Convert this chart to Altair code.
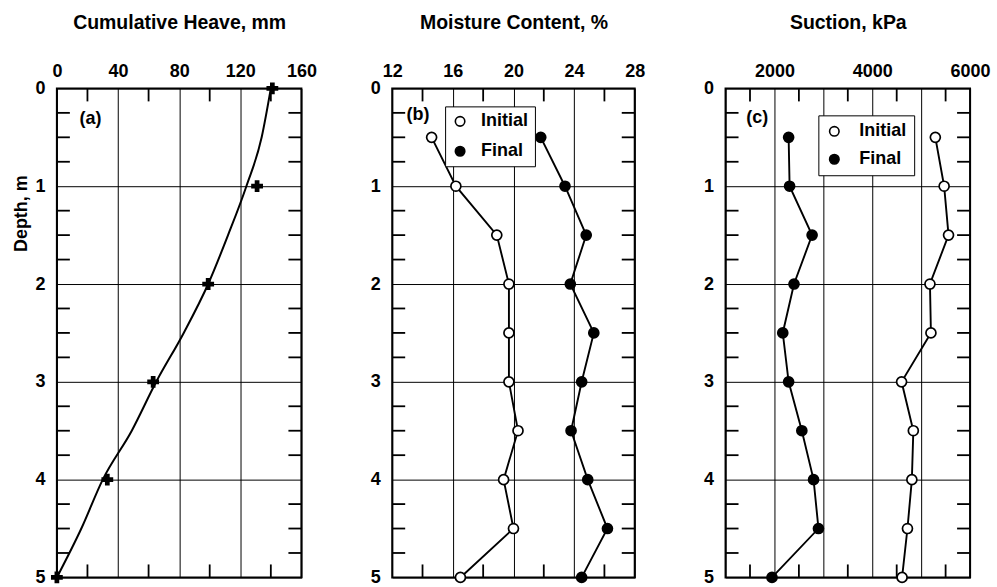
import altair as alt
import pandas as pd

FONT = "Liberation Sans"
WEIGHT = "bold"

# ---------------- data ----------------
# (a) cumulative heave
heave_depth = [0, 1, 2, 3, 4, 5]
heave_mm = [141, 131, 99, 63, 33, 0]
curve_depth = [0, 0.5, 1, 1.5, 2, 2.5, 3, 3.5, 4, 4.5, 5]
curve_mm = [140, 134, 124, 112, 99, 83, 65, 49, 30, 16, 0]

# (b) moisture content
samp_depth = [0.5, 1, 1.5, 2, 2.5, 3, 3.5, 4, 4.5, 5]
moist_initial = [14.6, 16.2, 18.9, 19.7, 19.7, 19.7, 20.3, 19.35, 20.0, 16.5]
moist_final = [21.8, 23.4, 24.8, 23.75, 25.3, 24.5, 23.8, 24.9, 26.2, 24.5]

# (c) suction
suct_initial = [5290, 5470, 5560, 5180, 5200, 4600, 4840, 4810, 4720, 4610]
suct_final = [2290, 2310, 2770, 2400, 2170, 2290, 2560, 2800, 2900, 1950]

series_names = ["Initial", "Final"]

# axes / ticks
depth_ticks = [0, 1, 2, 3, 4, 5]
depth_minor = [0.25, 0.5, 0.75, 1.25, 1.5, 1.75, 2.25, 2.5, 2.75,
               3.25, 3.5, 3.75, 4.25, 4.5, 4.75]
a_ticks = [0, 40, 80, 120, 160]
a_minor = [20, 60, 100, 140]
b_ticks = [12, 16, 20, 24, 28]
b_minor = [14, 18, 22, 26]
c_ticks = [1000, 2000, 3000, 4000, 5000, 6000]
c_minor = [1500, 2500, 3500, 4500, 5500]

panel_tags = ["(a)", "(b)", "(c)"]
tag_x = [22, 13.7, 1650]
tag_depth = [0.31, 0.27, 0.3]

W_A, W_B, W_C, H = 245, 243, 245, 490
TICK = 13


def x_axis(values, title, label_expr=None, fmt=None):
    kw = dict(orient="top", values=values, grid=True, gridColor="black",
              gridWidth=1, gridOpacity=1, domain=False, ticks=False,
              labelPadding=8, labelFontSize=18, labelFont=FONT,
              labelFontWeight=WEIGHT,
              labelColor="black", labelFlush=False, labelOverlap=False,
              title=title, titleFont=FONT, titleFontSize=19.5,
              titleFontWeight=WEIGHT, titleColor="black", titlePadding=30)
    if label_expr:
        kw["labelExpr"] = label_expr
    if fmt:
        kw["format"] = fmt
    return alt.Axis(**kw)


def y_axis(title):
    kw = dict(orient="left", values=depth_ticks, grid=True, gridColor="black",
              gridWidth=1, gridOpacity=1, domain=False, ticks=False,
              labelPadding=12, labelFontSize=18, labelFont=FONT,
              labelFontWeight=WEIGHT,
              labelColor="black", labelFlush=False, labelOverlap=False)
    if title:
        kw.update(title=title, titleFont=FONT, titleFontSize=18,
                  titleFontWeight=WEIGHT, titleColor="black",
                  titleX=-35, titleY=125, titleBaseline="middle",
                  titleAlign="center", titleAngle=270)
    else:
        kw["title"] = None
    return alt.Axis(**kw)


def panel(width, xdom, xticks, xminor, xtitle, ytitle, layers_fn, tag_i,
          label_expr=None, fmt=None):
    xs = alt.Scale(domain=xdom, nice=False, zero=False)
    ys = alt.Scale(domain=[0, 5], reverse=True, nice=False, zero=False)
    xa = x_axis(xticks, xtitle, label_expr, fmt)
    ya = y_axis(ytitle)

    def X(f):
        return alt.X(f, type="quantitative", scale=xs, axis=xa)

    def Y(f):
        return alt.Y(f, type="quantitative", scale=ys, axis=ya)

    ymin = pd.DataFrame({"d": depth_minor})
    xmin = pd.DataFrame({"v": xminor})
    rule = dict(color="black", strokeWidth=1.8)
    layers = [
        alt.Chart(ymin).mark_rule(**rule).encode(
            y=Y("d"), x=alt.value(0), x2=alt.value(TICK)),
        alt.Chart(ymin).mark_rule(**rule).encode(
            y=Y("d"), x=alt.value(width - TICK), x2=alt.value(width)),
        alt.Chart(xmin).mark_rule(**rule).encode(
            x=X("v"), y=alt.value(0), y2=alt.value(TICK)),
        alt.Chart(xmin).mark_rule(**rule).encode(
            x=X("v"), y=alt.value(H - TICK), y2=alt.value(H)),
    ]
    layers += layers_fn(X, Y)
    tag = pd.DataFrame({"t": [panel_tags[tag_i]], "x": [tag_x[tag_i]],
                        "d": [tag_depth[tag_i]]})
    layers.append(alt.Chart(tag).mark_text(
        font=FONT, fontSize=18, fontWeight=WEIGHT, color="black",
        align="center", baseline="middle").encode(
        x=X("x"), y=Y("d"), text="t:N"))
    return alt.layer(*layers).properties(width=width, height=H)


# ---- panel (a)
def a_layers(X, Y):
    pts = pd.DataFrame({"h": heave_mm, "d": heave_depth})
    crv = pd.DataFrame({"h": curve_mm, "d": curve_depth})
    return [
        alt.Chart(crv).mark_line(color="black", strokeWidth=2,
                                 interpolate="monotone").encode(
            x=X("h"), y=Y("d"), order="d:Q"),
        alt.Chart(pts).mark_point(shape="cross", filled=True, color="black",
                                  size=140, opacity=1).encode(
            x=X("h"), y=Y("d")),
    ]


def series_layers(vals_init, vals_final, lx, ly, loff, pad, rowpad):
    def fn(X, Y):
        df = pd.DataFrame({
            "v": vals_init + vals_final,
            "d": samp_depth + samp_depth,
            "s": [series_names[0]] * len(vals_init)
                 + [series_names[1]] * len(vals_final),
        })
        legend = alt.Legend(orient="none", legendX=lx, legendY=ly, title=None,
                            strokeColor="black", fillColor="white",
                            padding=pad, labelFontSize=18,
                            labelFontWeight=WEIGHT,
                            labelFont=FONT, labelColor="black",
                            symbolType="circle", symbolSize=90,
                            symbolStrokeColor="black", symbolStrokeWidth=1.6,
                            rowPadding=rowpad, labelOffset=loff)
        return [
            alt.Chart(df).mark_line(color="black", strokeWidth=1.9).encode(
                x=X("v"), y=Y("d"), detail="s:N", order="d:Q"),
            alt.Chart(df).mark_point(shape="circle", filled=True,
                                     stroke="black", strokeWidth=1.7,
                                     size=100, opacity=1).encode(
                x=X("v"), y=Y("d"),
                fill=alt.Fill("s:N", scale=alt.Scale(
                    domain=series_names, range=["white", "black"]),
                    legend=legend)),
        ]
    return fn


pa = panel(W_A, [0, 160], a_ticks, a_minor, "Cumulative Heave, mm",
           "Depth, m", a_layers, 0)
pb = panel(W_B, [12, 28], b_ticks, b_minor, "Moisture Content, %", None,
           series_layers(moist_initial, moist_final, 53, 18, 12, 6, 12), 1)
pc = panel(W_C, [1000, 6000], c_ticks, c_minor, "Suction, kPa", None,
           series_layers(suct_initial, suct_final, 93, 27, 16, 7, 10), 2,
           label_expr="datum.value % 2000 == 0 ? datum.label : ''", fmt="d")

chart = alt.hconcat(pa, pb, pc, spacing=91, bounds="flush").resolve_scale(
    fill="independent").resolve_legend(fill="independent").properties(
    padding={"left": 12, "top": 11, "right": 5, "bottom": 0},
    background="white",
).configure_view(stroke="black", strokeWidth=2)

chart.save("out.html", embed_options={"renderer": "svg", "actions": False})
